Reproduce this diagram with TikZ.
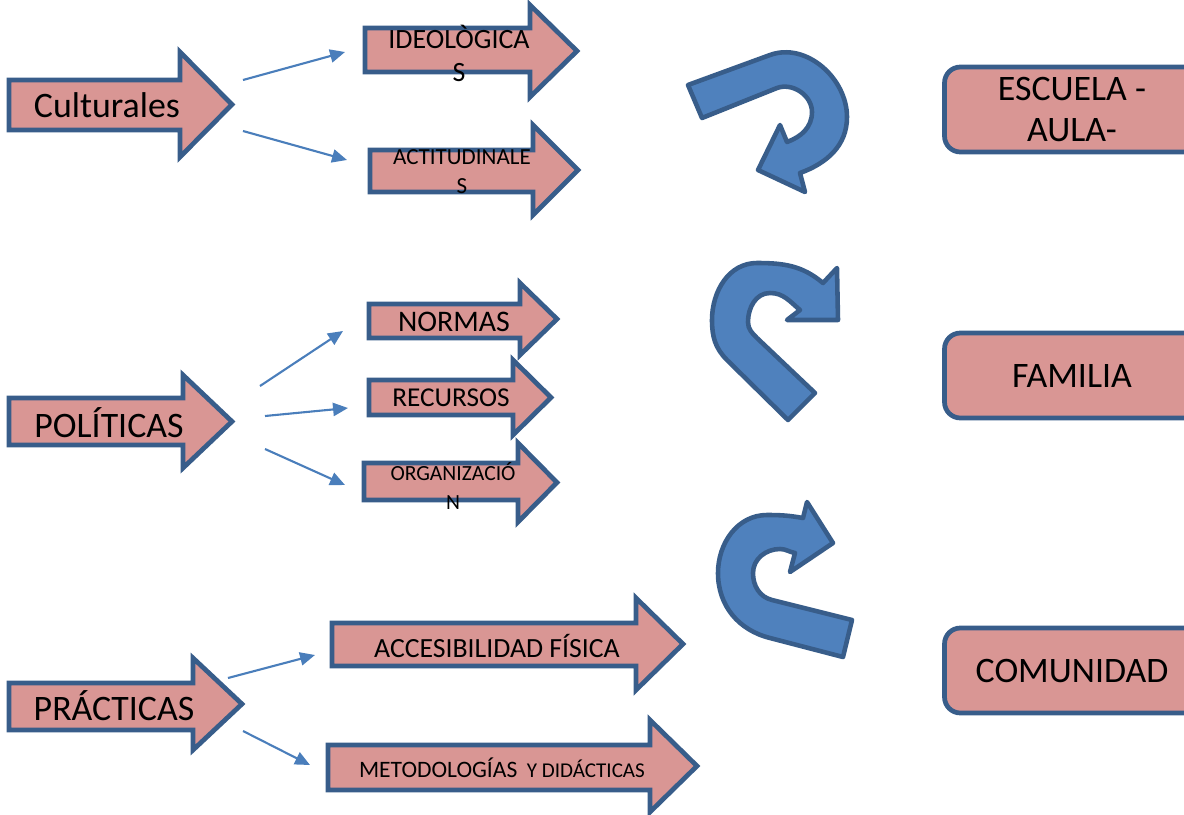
\documentclass[tikz,border=0pt]{standalone}
\usepackage{fontspec}
\setmainfont{Carlito}
\usetikzlibrary{arrows.meta}

\definecolor{arrowpink}{HTML}{D99694}
\definecolor{edgeblue}{HTML}{385D8A}
\definecolor{turnblue}{HTML}{4F81BD}
\definecolor{linkblue}{HTML}{4A7EBB}

% block arrow: left, body top, body bottom, head x, head top, head bottom, tip x
\newcommand{\blockarrow}[7]{%
  \draw[blockarrow] (#1,-#2) -- (#4,-#2) -- (#4,-#5) -- (#7,{-(#5+#6)/2})
    -- (#4,-#6) -- (#4,-#3) -- (#1,-#3) -- cycle;}

\begin{document}
\begin{tikzpicture}[x=0.02cm, y=0.02cm,
    blockarrow/.style={fill=arrowpink, draw=edgeblue, line width=2.7pt, line join=miter},
    uturn/.style={fill=turnblue, draw=edgeblue, line width=2.6pt, line join=round},
    link/.style={draw=linkblue, line width=1.2pt, -{Triangle[length=8.5pt, width=7.5pt]}},
    placebox/.style={fill=arrowpink, draw=edgeblue, line width=2.7pt, rounded corners=9pt,
      minimum width=5.1cm, minimum height=1.7cm, align=center,
      font=\fontsize{20.4}{23.9}\selectfont},
    bigtext/.style={font=\fontsize{20.4}{24}\selectfont, inner sep=0pt},
    smalltext/.style={inner sep=0pt, align=center}]

    % Frame
    \clip (0,0) rectangle (1184,-815);

    % Block arrows
    \blockarrow{9}{80}{130}{180}{52}{157}{232}
    \blockarrow{365}{28}{72}{530}{5}{97}{577}
    \blockarrow{370}{150}{192}{533}{125}{215}{578}
    \blockarrow{369}{304}{338}{520}{283}{355}{557}
    \blockarrow{369}{380}{415}{513}{360}{435}{551}
    \blockarrow{364}{463}{500}{518}{443}{522}{557}
    \blockarrow{9}{398}{445}{183}{375}{468}{232}
    \blockarrow{9}{683}{730}{193}{658}{750}{242}
    \blockarrow{332}{623}{666}{636}{598}{690}{683}
    \blockarrow{328}{745}{790}{650}{720}{812}{697}

    % Labels on the arrows
    \node[bigtext] (cult) at (107,-105) {Culturales};
    \node[bigtext] (polit) at (109,-423) {POLÍTICAS};
    \node[bigtext] (pract) at (114,-706) {PRÁCTICAS};
    \node[smalltext, font=\fontsize{15.9}{18.8}\selectfont] (ideo) at (459,-53) {IDEOLÒGICA\\S};
    \node[smalltext, font=\fontsize{13.1}{16.5}\selectfont] (acti) at (462,-172) {ACTITUDINALE\\S};
    \node[smalltext, font=\fontsize{17}{20}\selectfont] (normas) at (454,-322) {NORMAS};
    \node[smalltext, font=\fontsize{15.5}{18}\selectfont] (recursos) at (451,-398) {RECURSOS};
    \node[smalltext, font=\fontsize{12.3}{16}\selectfont] (organiz) at (453,-486) {ORGANIZACIÓ\\N};
    \node[smalltext, font=\fontsize{15.8}{18}\selectfont] (acces) at (497,-646) {ACCESIBILIDAD FÍSICA};
    \node[smalltext, font=\fontsize{13.4}{16}\selectfont] (metod) at (502,-768)
      {METODOLOGÍAS\hspace{0.4em}{\fontsize{12}{14}\selectfont Y DIDÁCTICAS}};

    % Connectors
    \coordinate (cult-a) at (243,-80);
    \coordinate (cult-b) at (243,-131);
    \coordinate (ideo-a) at (345,-52);
    \coordinate (acti-a) at (347,-160);
    \coordinate (polit-a) at (260,-386);
    \coordinate (polit-b) at (265,-416);
    \coordinate (polit-c) at (265,-449);
    \coordinate (normas-a) at (343,-331);
    \coordinate (recursos-a) at (348,-408);
    \coordinate (organiz-a) at (345,-485);
    \coordinate (pract-a) at (228,-678);
    \coordinate (pract-b) at (243,-731);
    \coordinate (acces-a) at (315,-655);
    \coordinate (metod-a) at (310,-765);
    \foreach \a/\b in {cult-a/ideo-a, cult-b/acti-a, polit-a/normas-a, polit-b/recursos-a,
      polit-c/organiz-a, pract-a/acces-a, pract-b/metod-a}
      \draw[link] (\a) -- (\b);

    % U-turn arrows
    \draw[uturn] (688,-85) -- (770,-55) to[out=20,in=90] (847,-117) to[out=-90,in=20] (800,-173)
      -- (805,-192) -- (758,-170) -- (780,-125) -- (787,-142)
      to[out=20,in=-90] (812,-112) to[out=90,in=20] (777,-88) -- (702,-118) -- cycle;
    \draw[uturn] (788,-420) -- (727,-360) to[out=135,in=-90] (712,-320) to[out=90,in=180] (757,-263)
      to[out=0,in=140] (823,-283) -- (837,-268) -- (838,-320) -- (787,-320) -- (800,-310)
      to[out=140,in=0] (770,-293) to[out=180,in=90] (748,-322) to[out=-90,in=135] (757,-338)
      -- (815,-393) -- cycle;
    \draw[uturn] (843,-657) -- (770,-638) to[out=166,in=-90] (718,-573) to[out=90,in=180] (767,-515)
      to[out=0,in=170] (803,-518) -- (807,-502) -- (833,-543) -- (790,-572) -- (795,-553)
      to[out=170,in=0] (780,-549) to[out=180,in=90] (753,-573) to[out=-90,in=166] (772,-600)
      -- (852,-620) -- cycle;

    % Places
    \node[placebox] (escuela) at (1072,-109.5) {ESCUELA -\\AULA-};
    \node[placebox] (familia) at (1072,-375.5) {FAMILIA};
    \node[placebox] (comunidad) at (1072,-670.5) {COMUNIDAD};
\end{tikzpicture}
\end{document}
